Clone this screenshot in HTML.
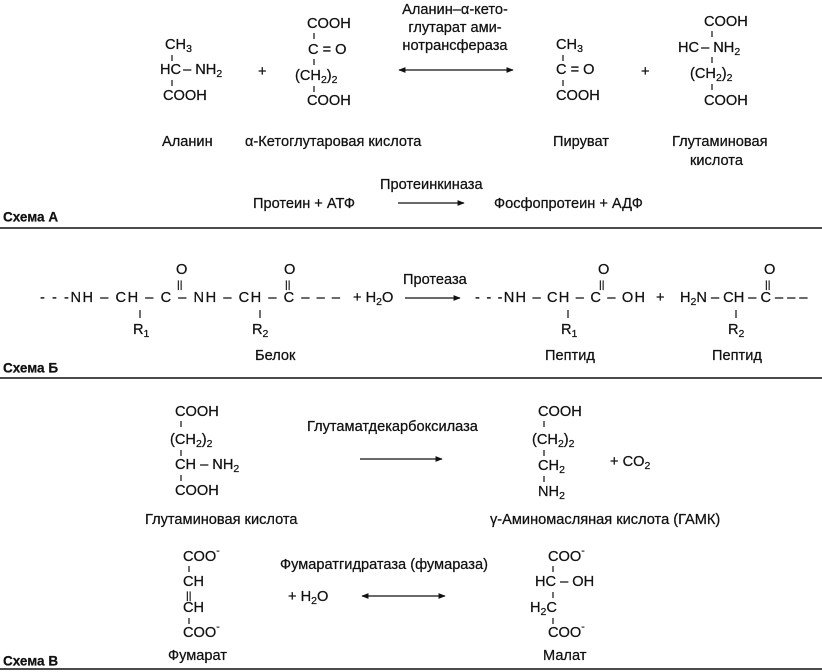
<!DOCTYPE html>
<html><head><meta charset="utf-8"><style>
html,body{margin:0;padding:0;background:#fff}
svg{display:block}
text{font-family:"Liberation Sans",sans-serif;font-size:14.6px;fill:#111;dominant-baseline:central;stroke:#111;stroke-width:0.25}
.s{font-size:10.5px}
.b{font-weight:bold;font-size:13.5px}
line{stroke:#111;stroke-width:1.2}
</style></head><body>
<svg width="822" height="672" viewBox="0 0 822 672" xmlns="http://www.w3.org/2000/svg">
<defs><marker id="a" viewBox="0 0 10 10" refX="9" refY="5" markerWidth="6" markerHeight="6" orient="auto-start-reverse"><path d="M0,1 L10,5 L0,9z" fill="#111"/></marker></defs>

<!-- Scheme A -->
<text x="165" y="45">CH<tspan class="s" dy="4">3</tspan></text>
<line x1="172" y1="55" x2="172" y2="61"/>
<text x="160" y="70">HC<tspan dx="2">– NH</tspan><tspan class="s" dy="4">2</tspan></text>
<line x1="172" y1="80" x2="172" y2="86"/>
<text x="163" y="96">COOH</text>
<text x="258" y="72">+</text>

<text x="307" y="24">COOH</text>
<line x1="314" y1="33" x2="314" y2="39"/>
<text x="308" y="50">C = O</text>
<line x1="314" y1="59" x2="314" y2="65"/>
<text x="295" y="76">(CH<tspan class="s" dy="4">2</tspan><tspan dy="-4">)</tspan><tspan class="s" dy="4">2</tspan></text>
<line x1="314" y1="86" x2="314" y2="92"/>
<text x="307" y="101">COOH</text>

<text x="455" y="10" text-anchor="middle">Аланин–α-кето-</text>
<text x="455" y="28" text-anchor="middle">глутарат ами-</text>
<text x="455" y="46" text-anchor="middle">нотрансфераза</text>
<line x1="399" y1="70" x2="513" y2="70" marker-start="url(#a)" marker-end="url(#a)"/>

<text x="556" y="45">CH<tspan class="s" dy="4">3</tspan></text>
<line x1="563" y1="55" x2="563" y2="61"/>
<text x="556" y="70">C = O</text>
<line x1="563" y1="80" x2="563" y2="86"/>
<text x="556" y="96">COOH</text>
<text x="641" y="72">+</text>

<text x="704" y="22">COOH</text>
<line x1="712" y1="31" x2="712" y2="37"/>
<text x="678" y="48">HC<tspan dx="2">– NH</tspan><tspan class="s" dy="4">2</tspan></text>
<line x1="712" y1="57" x2="712" y2="63"/>
<text x="690" y="74">(CH<tspan class="s" dy="4">2</tspan><tspan dy="-4">)</tspan><tspan class="s" dy="4">2</tspan></text>
<line x1="712" y1="84" x2="712" y2="90"/>
<text x="704" y="101">COOH</text>

<text x="162" y="142">Аланин</text>
<text x="245" y="142">α-Кетоглутаровая кислота</text>
<text x="553" y="142">Пируват</text>
<text x="672" y="142">Глутаминовая</text>
<text x="690" y="161">кислота</text>

<text x="380" y="185">Протеинкиназа</text>
<text x="253" y="204">Протеин  + АТФ</text>
<line x1="398" y1="203" x2="464" y2="203" marker-end="url(#a)"/>
<text x="494" y="204">Фосфопротеин  + АДФ</text>
<text x="3" y="217" class="b">Схема А</text>
<line x1="0" y1="228" x2="822" y2="228" style="stroke-width:1.6"/>

<!-- Scheme B -->
<text x="40" y="298" textLength="300">- - -NH – CH – C – NH – CH – C – – –</text>
<text x="176" y="270">O</text><text x="177" y="285" class="s">||</text>
<text x="284" y="270">O</text><text x="285" y="285" class="s">||</text>
<line x1="140" y1="310" x2="140" y2="318"/>
<line x1="260" y1="310" x2="260" y2="318"/>
<text x="133" y="330">R<tspan class="s" dy="4">1</tspan></text>
<text x="252" y="330">R<tspan class="s" dy="4">2</tspan></text>
<text x="353" y="298">+ H<tspan class="s" dy="4">2</tspan><tspan dy="-4">O</tspan></text>
<text x="403" y="280">Протеаза</text>
<line x1="405" y1="298" x2="460" y2="298" marker-end="url(#a)"/>
<text x="475" y="298" textLength="170">- - -NH – CH – C – OH</text>
<text x="598" y="270">O</text><text x="599" y="285" class="s">||</text>
<line x1="568" y1="310" x2="568" y2="318"/>
<text x="561" y="330">R<tspan class="s" dy="4">1</tspan></text>
<text x="656" y="298">+</text>
<text x="680" y="298">H<tspan class="s" dy="4">2</tspan><tspan dy="-4">N – CH – C – – –</tspan></text>
<text x="764" y="270">O</text><text x="765" y="285" class="s">||</text>
<line x1="736" y1="310" x2="736" y2="318"/>
<text x="728" y="330">R<tspan class="s" dy="4">2</tspan></text>
<text x="255" y="356">Белок</text>
<text x="545" y="356">Пептид</text>
<text x="712" y="356">Пептид</text>
<text x="3" y="368" class="b">Схема Б</text>
<line x1="0" y1="378" x2="822" y2="378" style="stroke-width:1.6"/>

<!-- Scheme C -->
<text x="175" y="412">COOH</text>
<line x1="181" y1="421" x2="181" y2="427"/>
<text x="170" y="440">(CH<tspan class="s" dy="4">2</tspan><tspan dy="-4">)</tspan><tspan class="s" dy="4">2</tspan></text>
<line x1="181" y1="450" x2="181" y2="456"/>
<text x="175" y="465">CH – NH<tspan class="s" dy="4">2</tspan></text>
<line x1="181" y1="475" x2="181" y2="481"/>
<text x="175" y="491">COOH</text>
<text x="145" y="520">Глутаминовая кислота</text>
<text x="307" y="427">Глутаматдекарбоксилаза</text>
<line x1="360" y1="459" x2="442" y2="459" marker-end="url(#a)"/>
<text x="538" y="412">COOH</text>
<line x1="544" y1="421" x2="544" y2="427"/>
<text x="532" y="440">(CH<tspan class="s" dy="4">2</tspan><tspan dy="-4">)</tspan><tspan class="s" dy="4">2</tspan></text>
<line x1="544" y1="450" x2="544" y2="456"/>
<text x="538" y="466">CH<tspan class="s" dy="4">2</tspan></text>
<line x1="544" y1="476" x2="544" y2="482"/>
<text x="538" y="492">NH<tspan class="s" dy="4">2</tspan></text>
<text x="610" y="462">+ CO<tspan class="s" dy="4">2</tspan></text>
<text x="490" y="520">γ-Аминомасляная кислота (ГАМК)</text>

<text x="183" y="557">COO<tspan class="s" dy="-6">-</tspan></text>
<line x1="189" y1="566" x2="189" y2="572"/>
<text x="183" y="582">CH</text>
<text x="186" y="596" class="s">||</text>
<text x="183" y="608">CH</text>
<line x1="189" y1="618" x2="189" y2="624"/>
<text x="183" y="633">COO<tspan class="s" dy="-6">-</tspan></text>
<text x="168" y="656">Фумарат</text>
<text x="280" y="565">Фумаратгидратаза (фумараза)</text>
<text x="288" y="597">+ H<tspan class="s" dy="4">2</tspan><tspan dy="-4">O</tspan></text>
<line x1="362" y1="596" x2="445" y2="596" marker-start="url(#a)" marker-end="url(#a)"/>
<text x="548" y="557">COO<tspan class="s" dy="-6">-</tspan></text>
<line x1="553" y1="566" x2="553" y2="572"/>
<text x="535" y="582">HC – OH</text>
<line x1="553" y1="592" x2="553" y2="598"/>
<text x="530" y="608">H<tspan class="s" dy="4">2</tspan><tspan dy="-4">C</tspan></text>
<line x1="553" y1="618" x2="553" y2="624"/>
<text x="548" y="633">COO<tspan class="s" dy="-6">-</tspan></text>
<text x="543" y="656">Малат</text>
<text x="3" y="661" class="b">Схема В</text>
<line x1="0" y1="669" x2="822" y2="669" style="stroke-width:1.6"/>
</svg>
</body></html>
